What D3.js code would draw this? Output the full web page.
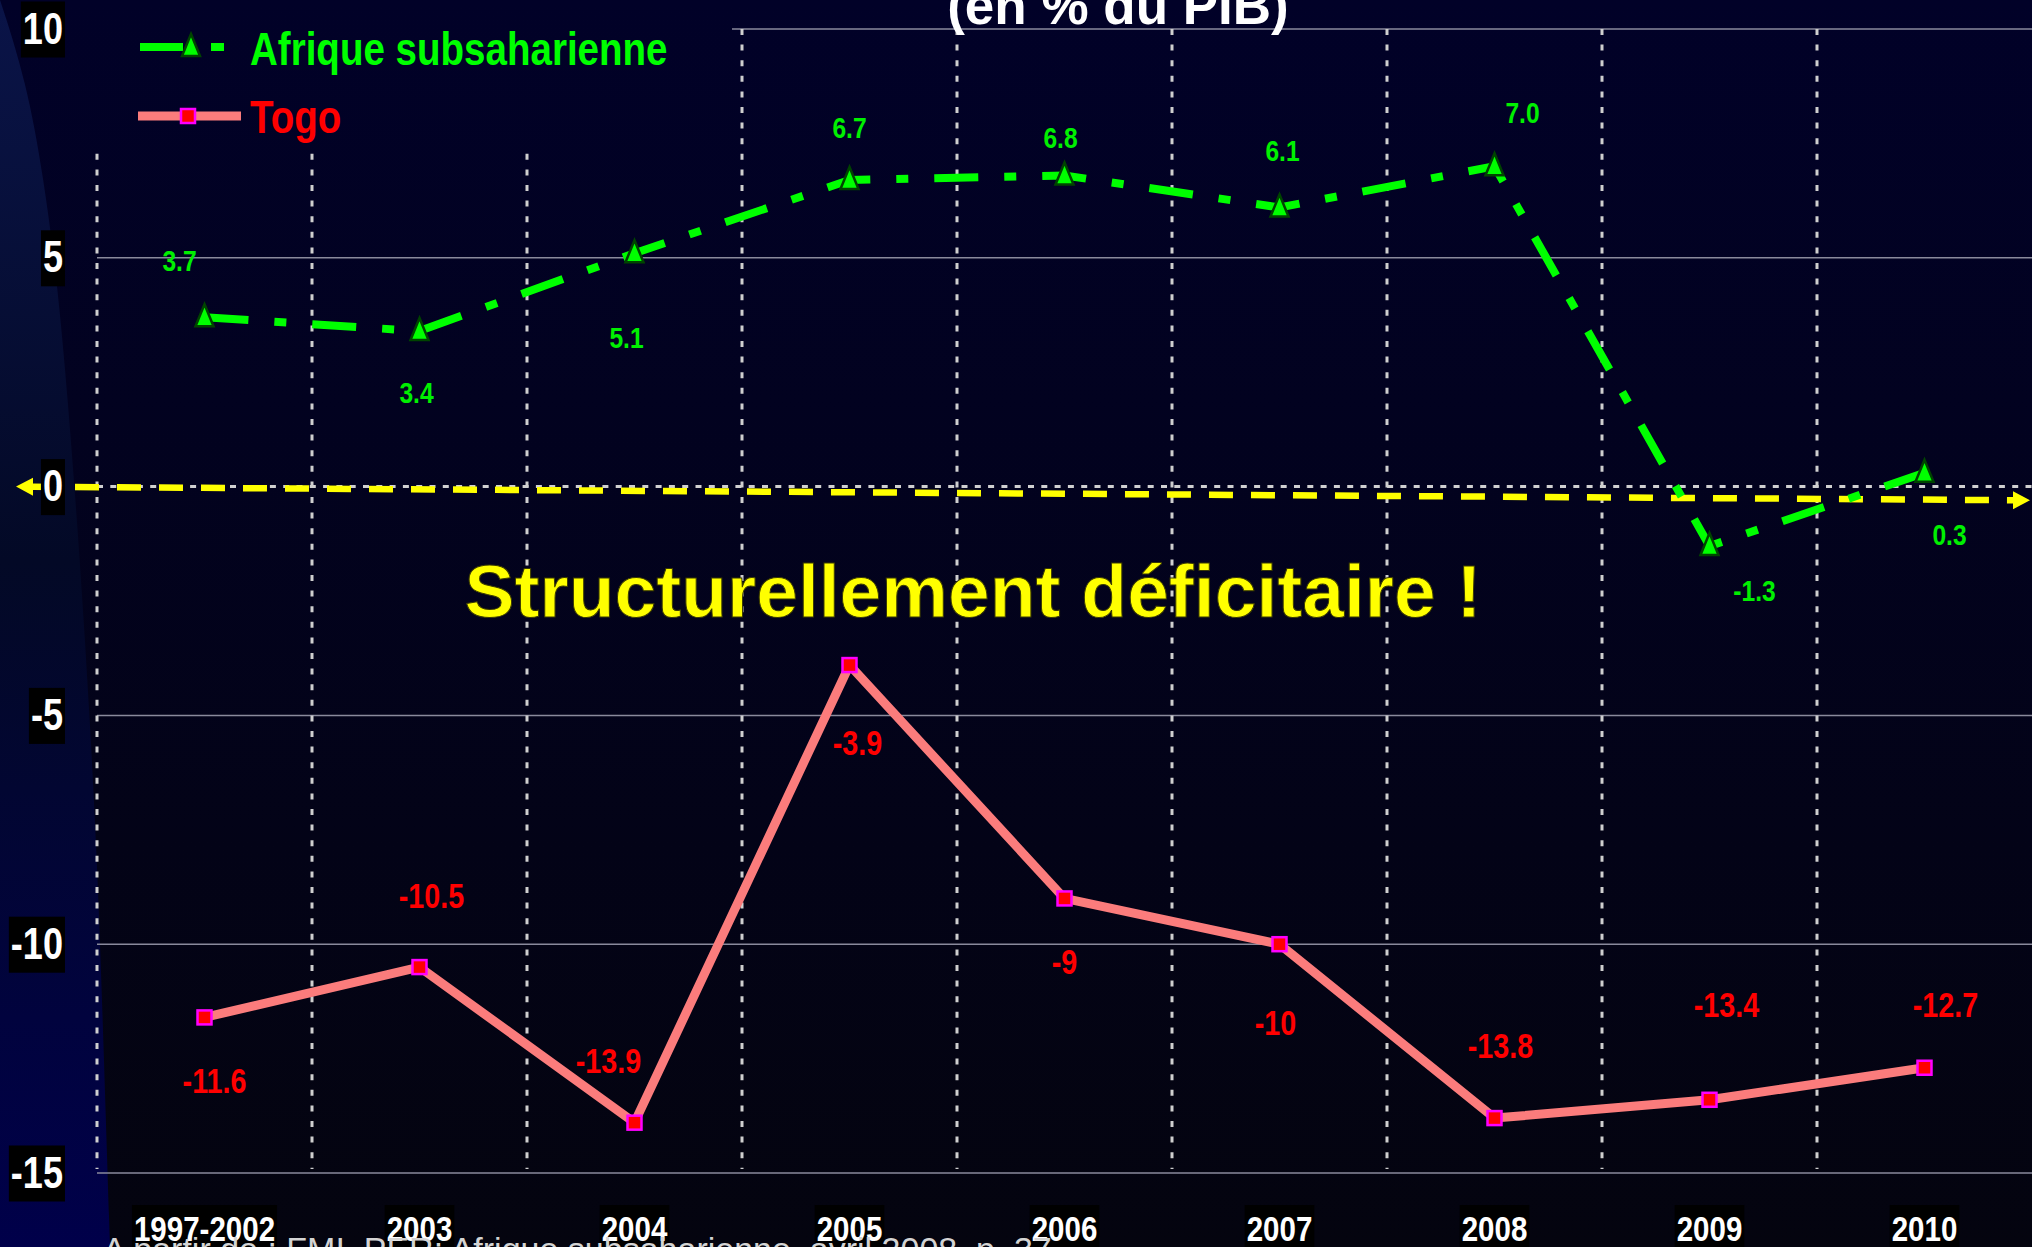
<!DOCTYPE html>
<html>
<head>
<meta charset="utf-8">
<script src="https://cdn.jsdelivr.net/npm/d3@7"></script>
<style>
  html, body { margin: 0; padding: 0; background: #02021c; overflow: hidden; }
  svg { display: block; }
</style>
</head>
<body>
<script>
// Solde (en % du PIB)
var categories = ["1997-2002", "2003", "2004", "2005", "2006", "2007", "2008", "2009", "2010"];
var afrique = [3.7, 3.4, 5.1, 6.7, 6.8, 6.1, 7.0, -1.3, 0.3];
var togo = [-11.6, -10.5, -13.9, -3.9, -9, -10, -13.8, -13.4, -12.7];
var yTicks = [10, 5, 0, -5, -10, -15];
var seriesNames = ["Afrique subsaharienne", "Togo"];
var trend = [0, -0.3];   // fleche jaune, valeur de depart et d'arrivee

// decalage des etiquettes par rapport au point (px)
var afriqueLabelOffset = [[-25, -57], [-3, 61], [-8, 84], [0, -53], [-4, -38], [3, -57], [28, -54], [45, 44], [25, 61]];
var togoLabelOffset = [[10, 63], [12, -72], [-26, -62], [8, 77], [0, 63], [-4, 78], [6, -73], [17, -95], [21, -63]];

var W = 2032, H = 1247;

// police etroite : Liberation Sans Narrow si dispo, sinon Liberation Sans compressee
function hasFont(name) {
    var c = document.createElement("canvas").getContext("2d");
    c.font = "100px monospace";
    var w1 = c.measureText("abcdefghiWW0123").width;
    c.font = "100px \"" + name + "\", monospace";
    return c.measureText("abcdefghiWW0123").width !== w1;
}
var NARROW = hasFont("Liberation Sans Narrow");
var SX = NARROW ? 1 : 0.82;
var narrowFamily = NARROW ? "'Liberation Sans Narrow', 'Liberation Sans', Arial, sans-serif" : "'Liberation Sans', Arial, sans-serif";

function narrowify(sel) {
    sel.each(function() {
        var t = d3.select(this);
        var x = +t.attr("x") || 0, y = +t.attr("y") || 0;
        t.attr("x", 0).attr("y", 0)
            .attr("transform", "translate(" + x + "," + y + ") scale(" + SX + ",1)");
    });
}

var loc = d3.formatLocale({decimal: ".", thousands: ",", grouping: [3], currency: ["", ""], minus: "-"});
var fmt1 = loc.format(".1f");
var fmtInt = loc.format("d");

var x = d3.scaleBand().domain(categories).range([97, W]).padding(0);
var y = d3.scaleLinear().domain([-15, 10]).range([1173, 29]);
var cx = function(i) { return x(categories[i]) + x.bandwidth() / 2; };

var svg = d3.select("body").append("svg").attr("width", W).attr("height", H);
var defs = svg.append("defs");

var bg = defs.append("linearGradient").attr("id", "bg")
    .attr("gradientUnits", "userSpaceOnUse")
    .attr("x1", 0).attr("y1", 0).attr("x2", 0).attr("y2", H);
bg.append("stop").attr("offset", "0%").attr("stop-color", "#010128");
bg.append("stop").attr("offset", "100%").attr("stop-color", "#04040f");

var bandGrad = defs.append("linearGradient").attr("id", "band")
    .attr("x1", 0).attr("y1", 0).attr("x2", 0).attr("y2", 1);
bandGrad.append("stop").attr("offset", "0%").attr("stop-color", "#0a1448");
bandGrad.append("stop").attr("offset", "45%").attr("stop-color", "#030926");
bandGrad.append("stop").attr("offset", "100%").attr("stop-color", "#00004a");

svg.append("rect").attr("width", W).attr("height", H).attr("fill", "url(#bg)");

// bande bleue a gauche (decor)
var bandPts = [[0, 0], [26, 80], [44, 180], [57, 280], [68, 400], [80, 560], [90, 720], [98, 880], [104, 1060], [110, 1247]];
svg.append("path")
    .attr("d", d3.line().curve(d3.curveBasis)(bandPts) + "L0,1247Z")
    .attr("fill", "url(#band)");

// quadrillage horizontal
svg.append("g").selectAll("line")
    .data(yTicks.filter(function(v) { return v !== 0; }))
    .join("line")
    .attr("x1", x.range()[0]).attr("x2", W)
    .attr("y1", function(v) { return y(v); }).attr("y2", function(v) { return y(v); })
    .attr("stroke", "#8a8a9c").attr("stroke-width", 1.5);

// lignes verticales pointillees
svg.append("g").selectAll("line")
    .data(categories)
    .join("line")
    .attr("x1", function(c) { return x(c); }).attr("x2", function(c) { return x(c); })
    .attr("y1", y(10)).attr("y2", y(-15) - 4)
    .attr("stroke", "#cfcfcf").attr("stroke-width", 3)
    .attr("stroke-dasharray", "6,9.6");

// ligne zero
svg.append("line")
    .attr("x1", x.range()[0]).attr("x2", W)
    .attr("y1", y(0)).attr("y2", y(0))
    .attr("stroke", "#d0d0d0").attr("stroke-width", 3)
    .attr("stroke-dasharray", "6,7.3");

// fond de legende (masque le quadrillage)
svg.append("rect")
    .attr("x", 90).attr("y", 0).attr("width", 642).attr("height", 153)
    .attr("fill", "url(#bg)");

// fleche jaune
var tipL = 16, tipR = W - 2, head = 17;
var yL = y(trend[0]), yR = y(trend[1]);
var lerpY = function(px) { return yL + (yR - yL) * (px - tipL) / (tipR - tipL); };
svg.append("line")
    .attr("x1", tipL + head).attr("y1", lerpY(tipL + head))
    .attr("x2", tipR - head).attr("y2", lerpY(tipR - head))
    .attr("stroke", "#ffff00").attr("stroke-width", 6.5)
    .attr("stroke-dasharray", "24,18");
svg.append("path")
    .attr("d", "M" + tipL + "," + yL + "L" + (tipL + head) + "," + (lerpY(tipL + head) - 9) + "L" + (tipL + head) + "," + (lerpY(tipL + head) + 9) + "Z")
    .attr("fill", "#ffff00");
svg.append("path")
    .attr("d", "M" + tipR + "," + yR + "L" + (tipR - head) + "," + (lerpY(tipR - head) - 9) + "L" + (tipR - head) + "," + (lerpY(tipR - head) + 9) + "Z")
    .attr("fill", "#ffff00");

// Togo
var line = d3.line().x(function(d, i) { return cx(i); }).y(function(d) { return y(d); });
svg.append("path").datum(togo)
    .attr("d", line)
    .attr("fill", "none").attr("stroke", "#fb7c7c").attr("stroke-width", 9)
    .attr("stroke-linejoin", "round");
svg.append("g").selectAll("rect")
    .data(togo)
    .join("rect")
    .attr("x", function(d, i) { return cx(i) - 7; })
    .attr("y", function(d) { return y(d) - 7; })
    .attr("width", 14).attr("height", 14)
    .attr("fill", "#ff0000").attr("stroke", "#ff00ff").attr("stroke-width", 2.5);

// Afrique subsaharienne
svg.append("path").datum(afrique)
    .attr("d", line)
    .attr("fill", "none").attr("stroke", "#00ff00").attr("stroke-width", 8)
    .attr("stroke-dasharray", "44,26,12,26");
var tri = "M0,-13L9,9L-9,9Z";
svg.append("g").selectAll("path")
    .data(afrique)
    .join("path")
    .attr("d", tri)
    .attr("transform", function(d, i) { return "translate(" + cx(i) + "," + y(d) + ")"; })
    .attr("fill", "#00ff00").attr("stroke", "#004400").attr("stroke-width", 2.5);

// etiquettes de valeurs
svg.append("g").selectAll("text")
    .data(afrique)
    .join("text")
    .attr("x", function(d, i) { return cx(i) + afriqueLabelOffset[i][0]; })
    .attr("y", function(d, i) { return y(d) + afriqueLabelOffset[i][1] + 10.7; })
    .attr("text-anchor", "middle")
    .attr("font-family", narrowFamily).attr("font-weight", "bold").attr("font-size", 30)
    .attr("fill", "#00f000")
    .text(function(d) { return fmt1(d); })
    .call(narrowify);

svg.append("g").selectAll("text")
    .data(togo)
    .join("text")
    .attr("x", function(d, i) { return cx(i) + togoLabelOffset[i][0]; })
    .attr("y", function(d, i) { return y(d) + togoLabelOffset[i][1] + 12.5; })
    .attr("text-anchor", "middle")
    .attr("font-family", narrowFamily).attr("font-weight", "bold").attr("font-size", 35)
    .attr("fill", "#ff0000")
    .text(function(d) { return String(d); })
    .call(narrowify);

// axe Y
var yAxis = svg.append("g").attr("transform", "translate(" + x.range()[0] + ",0)")
    .call(d3.axisLeft(y).tickValues(yTicks).tickSize(0).tickPadding(34).tickFormat(fmtInt));
yAxis.select(".domain").remove();
yAxis.selectAll("text")
    .attr("fill", "#ffffff")
    .attr("font-family", narrowFamily).attr("font-weight", "bold").attr("font-size", 44)
    .call(narrowify);
yAxis.selectAll(".tick").each(function() {
    var g = d3.select(this), t = g.select("text");
    var w = t.node().getComputedTextLength() * SX;
    g.insert("rect", "text")
        .attr("x", -34 - w - 2).attr("y", -28)
        .attr("width", w + 4).attr("height", 56)
        .attr("fill", "#000");
});

// axe X
var xAxis = svg.append("g").attr("transform", "translate(0," + y(-15) + ")")
    .call(d3.axisBottom(x).tickSize(0).tickPadding(42));
xAxis.select(".domain").remove();
xAxis.selectAll("text")
    .attr("fill", "#ffffff")
    .attr("font-family", narrowFamily).attr("font-weight", "bold").attr("font-size", 36)
    .call(narrowify);
xAxis.selectAll(".tick").each(function() {
    var g = d3.select(this), t = g.select("text");
    var w = t.node().getComputedTextLength() * SX;
    g.insert("rect", "text")
        .attr("x", -w / 2 - 2).attr("y", 32)
        .attr("width", w + 4).attr("height", 50)
        .attr("fill", "#000");
});

// legende
var leg = svg.append("g");
leg.append("line")
    .attr("x1", 140).attr("x2", 224).attr("y1", 47).attr("y2", 47)
    .attr("stroke", "#00ff00").attr("stroke-width", 8)
    .attr("stroke-dasharray", "43,28,13,100");
leg.append("path").attr("d", tri).attr("transform", "translate(191,47)")
    .attr("fill", "#00ff00").attr("stroke", "#004400").attr("stroke-width", 2.5);
leg.append("line")
    .attr("x1", 138).attr("x2", 241).attr("y1", 116).attr("y2", 116)
    .attr("stroke", "#fb7c7c").attr("stroke-width", 9);
leg.append("rect").attr("x", 181).attr("y", 109).attr("width", 14).attr("height", 14)
    .attr("fill", "#ff0000").attr("stroke", "#ff00ff").attr("stroke-width", 2.5);
leg.selectAll("text")
    .data(seriesNames)
    .join("text")
    .attr("x", 250)
    .attr("y", function(d, i) { return i === 0 ? 65 : 133; })
    .attr("font-family", narrowFamily).attr("font-weight", "bold").attr("font-size", 47)
    .attr("fill", function(d, i) { return i === 0 ? "#00ff00" : "#ff0000"; })
    .text(function(d) { return d; })
    .call(narrowify);

// titre (coupe en haut)
svg.append("text")
    .attr("x", 1118).attr("y", 24)
    .attr("text-anchor", "middle")
    .attr("font-family", "'Liberation Sans', Arial, sans-serif")
    .attr("font-weight", "bold").attr("font-size", 53)
    .attr("fill", "#ffffff")
    .text("(en % du PIB)");

// annotation
svg.append("text")
    .attr("x", 973).attr("y", 617)
    .attr("text-anchor", "middle")
    .attr("font-family", "'Liberation Sans', Arial, sans-serif")
    .attr("font-weight", "bold").attr("font-size", 75)
    .attr("fill", "#ffff00")
    .attr("stroke", "#3a3a00").attr("stroke-width", 1)
    .text("Structurellement déficitaire !");

// source (coupee en bas)
svg.append("text")
    .attr("x", 103).attr("y", 1261)
    .attr("font-family", "'Liberation Sans', Arial, sans-serif")
    .attr("font-size", 34)
    .attr("fill", "#d4d4d4")
    .text("A partir de : FMI, PER: Afrique subsaharienne, avril 2008, p. 37");
</script>
</body>
</html>
